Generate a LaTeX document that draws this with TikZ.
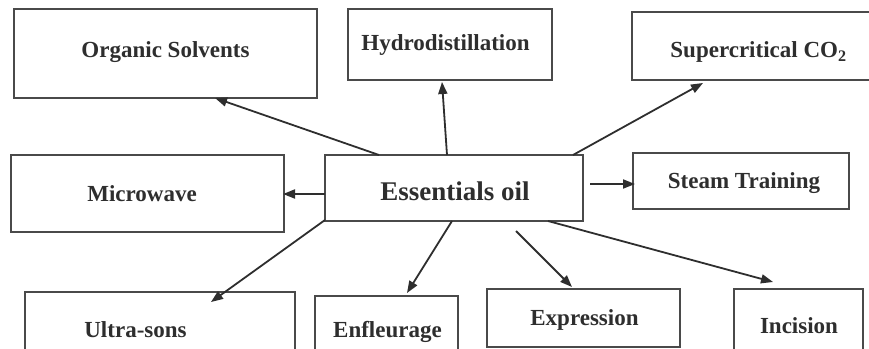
\documentclass[tikz,border=0pt]{standalone}
\usepackage{fontspec}
\setmainfont{Liberation Serif}
\usetikzlibrary{arrows.meta,calc}
\definecolor{ink}{HTML}{2E2E2E}
\definecolor{edge}{HTML}{4A4A4A}
\tikzset{
  box/.style={draw=edge, line width=1.4pt, fill=white, inner sep=0pt, outer sep=0pt},
  lbl/.style={font=\fontsize{23}{26}\selectfont\bfseries, text=ink, anchor=base, inner sep=0pt},
  biglbl/.style={lbl, font=\fontsize{27}{30}\selectfont\bfseries},
  arr/.style={draw=ink, line width=1.8pt, -{Triangle[length=12pt,width=9pt]}, shorten >=0pt}
}
\begin{document}
\begin{tikzpicture}[x=1pt,y=-1pt]
\useasboundingbox (0,0) rectangle (869,348);
\clip (0,0) rectangle (869,348);
% boxes
\node[box, minimum width=303pt, minimum height=89pt] (org) at (165.5,53.5) {};
\node[box, minimum width=204pt, minimum height=71pt] (hyd) at (450,44.5) {};
\node[box, minimum width=253pt, minimum height=68pt] (sup) at (758.5,46) {};
\node[box, minimum width=273pt, minimum height=77pt] (mic) at (147.5,193.5) {};
\node[box, minimum width=258pt, minimum height=66pt] (ess) at (454,188) {};
\node[box, minimum width=216pt, minimum height=56pt] (stm) at (741,181) {};
\node[box, minimum width=270pt, minimum height=76pt] (ult) at (160,330) {};
\node[box, minimum width=143pt, minimum height=68pt] (enf) at (386.5,330) {};
\node[box, minimum width=193pt, minimum height=58pt] (exp) at (583.5,318) {};
\node[box, minimum width=129pt, minimum height=74pt] (inc) at (798.5,326) {};
% labels
\node[lbl] (torg) at (165.5,57.6) {Organic Solvents};
\node[lbl] (thyd) at (445.5,50.6) {Hydrodistillation};
\node[lbl] (tsup) at (758.5,57.6) {Supercritical CO\textsubscript{2}};
\node[lbl] (tmic) at (142,201.6) {Microwave};
\node[biglbl] (tess) at (455,200) {Essentials oil};
\node[lbl] (tstm) at (744,188.6) {Steam Training};
\node[lbl] (tult) at (135.5,337.6) {Ultra-sons};
\node[lbl] (tenf) at (387.5,337.6) {Enfleurage};
\node[lbl] (texp) at (584.5,325.6) {Expression};
\node[lbl] (tinc) at (799,333.6) {Incision};
% connectors
\draw[arr] ($(ess.north west)+(54,0)$) -- ($(org.south west)+(201,0)$);
\draw[arr] ($(ess.north west)+(122,0)$) -- ($(hyd.south west)+(94,2)$);
\draw[arr] ($(ess.north east)+(-10,0)$) -- ($(sup.south west)+(71,3)$);
\draw[arr] ($(ess.east)+(7,-4)$) -- ($(stm.west)+(2,3)$);
\draw[arr] ($(ess.west)+(0,6)$) -- ($(mic.east)+(-1,0.5)$);
\draw[arr] ($(ess.south west)+(0,-1)$) -- ($(ult.north west)+(186,10)$);
\draw[arr] ($(ess.south west)+(127,0)$) -- ($(enf.north west)+(92,-3)$);
\draw[arr] ($(ess.south west)+(191,10)$) -- ($(exp.north west)+(85,-2)$);
\draw[arr] ($(ess.south west)+(223,0)$) -- ($(inc.north west)+(39,-7)$);
\end{tikzpicture}
\end{document}
